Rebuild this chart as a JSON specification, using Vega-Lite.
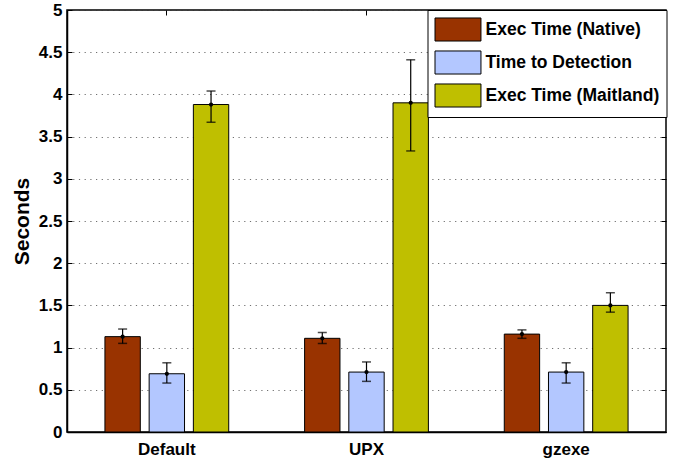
{
  "$schema": "https://vega.github.io/schema/vega-lite/v6.json",
  "width": 599,
  "height": 422,
  "autosize": {"type": "none"},
  "padding": {"left": 67, "top": 10, "right": 15, "bottom": 31},
  "background": "white",
  "config": {
    "view": {"stroke": "black", "strokeWidth": 1.5},
    "font": "Liberation Sans",
    "axis": {
      "labelFont": "Liberation Sans",
      "labelFontWeight": "bold",
      "labelFontSize": 17,
      "labelColor": "black",
      "domainColor": "black",
      "domainWidth": 1.5,
      "tickColor": "black",
      "tickWidth": 1
    }
  },
  "data": {
    "values": [
      {"group": "Default", "series": "Exec Time (Native)", "value": 1.13, "lo": 1.05, "hi": 1.22},
      {"group": "Default", "series": "Time to Detection", "value": 0.69, "lo": 0.58, "hi": 0.82},
      {"group": "Default", "series": "Exec Time (Maitland)", "value": 3.88, "lo": 3.67, "hi": 4.04},
      {"group": "UPX", "series": "Exec Time (Native)", "value": 1.11, "lo": 1.05, "hi": 1.18},
      {"group": "UPX", "series": "Time to Detection", "value": 0.71, "lo": 0.6, "hi": 0.83},
      {"group": "UPX", "series": "Exec Time (Maitland)", "value": 3.9, "lo": 3.33, "hi": 4.41},
      {"group": "gzexe", "series": "Exec Time (Native)", "value": 1.16, "lo": 1.11, "hi": 1.21},
      {"group": "gzexe", "series": "Time to Detection", "value": 0.71, "lo": 0.58, "hi": 0.82},
      {"group": "gzexe", "series": "Exec Time (Maitland)", "value": 1.5, "lo": 1.42, "hi": 1.65}
    ]
  },
  "layer": [
    {
      "mark": {"type": "bar", "stroke": "black", "strokeWidth": 1},
      "encoding": {
        "x": {
          "field": "group", "type": "nominal", "sort": ["Default", "UPX", "gzexe"],
          "scale": {"paddingInner": 0.38, "paddingOuter": 0.19},
          "axis": {"title": null, "labelAngle": 0, "tickSize": -5, "labelPadding": 14, "orient": "bottom",
                   "labelFont": "Liberation Sans", "labelFontWeight": "bold", "labelFontSize": 17, "labelColor": "black"}
        },
        "xOffset": {
          "field": "series", "type": "nominal",
          "sort": ["Exec Time (Native)", "Time to Detection", "Exec Time (Maitland)"],
          "scale": {"paddingInner": 0.2, "paddingOuter": 0}
        },
        "y": {
          "field": "value", "type": "quantitative",
          "scale": {"domain": [0, 5], "nice": false},
          "axis": {
            "title": "Seconds", "titleFont": "Liberation Sans", "titleFontSize": 21, "titleFontWeight": "bold",
            "titleColor": "black", "titleX": -45, "titleY": 211, "titleAngle": -90, "titleBaseline": "middle", "titleAlign": "center",
            "values": [0, 0.5, 1, 1.5, 2, 2.5, 3, 3.5, 4, 4.5, 5],
            "format": "~g",
            "labelFont": "Liberation Sans", "labelFontWeight": "bold", "labelFontSize": 17, "labelColor": "black",
            "tickSize": -5, "labelPadding": 10,
            "grid": true, "gridColor": "#333333", "gridDash": [1.2, 4.5], "gridWidth": 1.2, "gridOpacity": 0.7,
            "orient": "left"
          }
        },
        "color": {
          "field": "series", "type": "nominal",
          "sort": ["Exec Time (Native)", "Time to Detection", "Exec Time (Maitland)"],
          "scale": {"range": ["#993300", "#b3c7ff", "#bfbf00"]},
          "legend": {
            "orient": "none", "legendX": 360.5, "legendY": 0, "title": null,
            "symbolType": "M-1,-0.96H2.83V0.96H-1Z", "symbolSize": 576,
            "symbolStrokeColor": "black", "symbolStrokeWidth": 1, "symbolOpacity": 1,
            "labelFont": "Liberation Sans", "labelFontSize": 17.5, "labelFontWeight": "bold", "labelColor": "black",
            "labelOffset": 26, "labelLimit": 300,
            "strokeColor": "black", "fillColor": "white", "padding": 7, "rowPadding": 4
          }
        }
      }
    },
    {
      "mark": {"type": "rule", "color": "black", "strokeWidth": 1.2},
      "encoding": {
        "x": {"field": "group", "type": "nominal", "sort": ["Default", "UPX", "gzexe"], "axis": null},
        "xOffset": {"field": "series", "type": "nominal", "sort": ["Exec Time (Native)", "Time to Detection", "Exec Time (Maitland)"]},
        "y": {"field": "lo", "type": "quantitative", "axis": null},
        "y2": {"field": "hi"}
      }
    },
    {
      "mark": {"type": "tick", "color": "black", "size": 9, "thickness": 1.5, "orient": "horizontal"},
      "encoding": {
        "x": {"field": "group", "type": "nominal", "sort": ["Default", "UPX", "gzexe"], "axis": null},
        "xOffset": {"field": "series", "type": "nominal", "sort": ["Exec Time (Native)", "Time to Detection", "Exec Time (Maitland)"]},
        "y": {"field": "lo", "type": "quantitative", "axis": null}
      }
    },
    {
      "mark": {"type": "tick", "color": "black", "size": 9, "thickness": 1.5, "orient": "horizontal"},
      "encoding": {
        "x": {"field": "group", "type": "nominal", "sort": ["Default", "UPX", "gzexe"], "axis": null},
        "xOffset": {"field": "series", "type": "nominal", "sort": ["Exec Time (Native)", "Time to Detection", "Exec Time (Maitland)"]},
        "y": {"field": "hi", "type": "quantitative", "axis": null}
      }
    },
    {
      "mark": {"type": "point", "filled": true, "color": "black", "size": 18, "opacity": 1},
      "encoding": {
        "x": {"field": "group", "type": "nominal", "sort": ["Default", "UPX", "gzexe"], "axis": null},
        "xOffset": {"field": "series", "type": "nominal", "sort": ["Exec Time (Native)", "Time to Detection", "Exec Time (Maitland)"]},
        "y": {"field": "value", "type": "quantitative", "axis": null}
      }
    },
    {
      "mark": {"type": "point", "opacity": 0},
      "encoding": {
        "x": {
          "field": "group", "type": "nominal", "sort": ["Default", "UPX", "gzexe"],
          "axis": {"orient": "top", "title": null, "labels": false, "domain": false, "tickSize": -5}
        },
        "y": {
          "field": "value", "type": "quantitative",
          "axis": {"orient": "right", "title": null, "labels": false, "domain": false, "tickSize": -5, "grid": false,
                   "values": [0, 0.5, 1, 1.5, 2, 2.5, 3, 3.5, 4, 4.5, 5]}
        }
      }
    }
  ],
  "resolve": {"axis": {"x": "independent", "y": "independent"}}
}
